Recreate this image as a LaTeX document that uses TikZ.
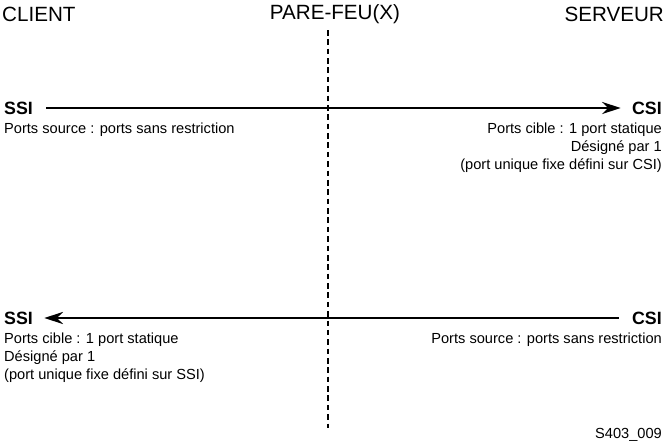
\documentclass[tikz,border=0pt]{standalone}
\usepackage{fontspec}
\setmainfont{Liberation Sans}
\usetikzlibrary{arrows.meta}
\tikzset{
  titre/.style={font=\fontsize{22}{24}\selectfont, inner sep=0pt},
  nom/.style={font=\bfseries\fontsize{19}{21}\selectfont, inner sep=0pt},
  txt/.style={font=\fontsize{15.6}{18}\selectfont, inner sep=0pt},
  fleche/.style={line width=2pt, -{Stealth[length=20pt,width=13pt]}}
}
\begin{document}
\begin{tikzpicture}[x=0.0375cm, y=-0.0375cm]
	\useasboundingbox (0,0) rectangle (666,444);
	% titres
	\node [titre, anchor=west] (client) at (2,14) {CLIENT};
	\node [titre] (parefeu) at (335,14) {PARE-FEU(X)};
	\node [titre, anchor=east] (serveur) at (664,14) {SERVEUR};
	% pare-feu
	\coordinate (fh) at (328,30);
	\coordinate (fb) at (328,428);
	\draw [line width=2pt, dash pattern=on 6pt off 4pt] (fh) -- (fb);
	% premier sens
	\node [nom, anchor=west] (ssia) at (4,108) {SSI};
	\node [nom, anchor=east] (csia) at (662,108) {CSI};
	\draw [fleche] ([xshift=14]ssia.east) -- ([xshift=-12]csia.west);
	\node [txt, anchor=west] (srca) at (4,130) {Ports source : ports sans restriction};
	\node [txt, anchor=east] (cia) at (662,130) {Ports cible : 1 port statique};
	\node [txt, anchor=east] (dsa) at (662,148) {Désigné par 1};
	\node [txt, anchor=east] (pua) at (662,166) {(port unique fixe défini sur CSI)};
	% second sens
	\node [nom, anchor=west] (ssib) at (4,318) {SSI};
	\node [nom, anchor=east] (csib) at (662,318) {CSI};
	\draw [fleche] ([xshift=-14]csib.west) -- ([xshift=12]ssib.east);
	\node [txt, anchor=west] (cib) at (4,340) {Ports cible : 1 port statique};
	\node [txt, anchor=west] (dsb) at (4,358) {Désigné par 1};
	\node [txt, anchor=west] (pub) at (4,376) {(port unique fixe défini sur SSI)};
	\node [txt, anchor=east] (srcb) at (662,340) {Ports source : ports sans restriction};
	% reference
	\node [txt, anchor=east] (ref) at (662,435) {S403\_009};
\end{tikzpicture}
\end{document}
